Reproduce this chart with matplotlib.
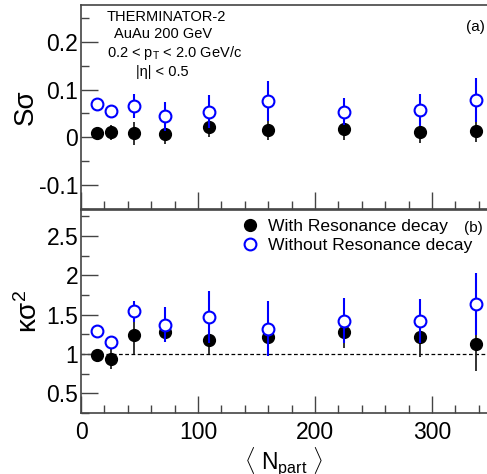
import matplotlib.pyplot as plt
import numpy as np

plt.rcParams['font.family'] = ['Liberation Sans', 'DejaVu Sans']
plt.rcParams['mathtext.fontset'] = 'custom'
plt.rcParams['mathtext.rm'] = 'Liberation Sans'
plt.rcParams['mathtext.it'] = 'Liberation Sans:italic'

# centrality (<Npart>)
npart = [14, 26, 45, 72, 109, 160, 225, 290, 338]

# S*sigma
ss_with = [0.008, 0.010, 0.008, 0.007, 0.021, 0.016, 0.017, 0.011, 0.014]
ss_with_err = [0.010, 0.016, 0.024, 0.022, 0.021, 0.022, 0.022, 0.024, 0.025]
ss_wo = [0.070, 0.056, 0.066, 0.044, 0.054, 0.077, 0.054, 0.057, 0.078]
ss_wo_err = [0.008, 0.008, 0.025, 0.030, 0.035, 0.042, 0.028, 0.034, 0.047]

# kappa*sigma^2
ks_with = [0.99, 0.936, 1.246, 1.285, 1.174, 1.21, 1.28, 1.21, 1.128]
ks_with_err = [0.05, 0.13, 0.24, 0.12, 0.175, 0.15, 0.20, 0.25, 0.35]
ks_wo = [1.29, 1.152, 1.543, 1.374, 1.467, 1.323, 1.425, 1.416, 1.635]
ks_wo_err = [0.05, 0.05, 0.136, 0.225, 0.33, 0.35, 0.29, 0.28, 0.39]

W, H = 487, 474
fig = plt.figure(figsize=(W / 100, H / 100), dpi=100)
ax1 = fig.add_axes([81 / W, 1 - 209 / H, (W - 81) / W, 204 / H])
ax2 = fig.add_axes([81 / W, 1 - 413 / H, (W - 81) / W, 203 / H])

spine_col = '#444444'
for ax in (ax1, ax2):
    ax.set_xlim(0, 347)
    ax.spines['right'].set_visible(False)
    for s in ax.spines.values():
        s.set_color(spine_col)
        s.set_linewidth(1.2)
    ax.set_xticks([0, 100, 200, 300])
    ax.set_xticks(np.arange(0, 347, 20), minor=True)
    ax.tick_params(which='both', direction='in', color=spine_col, width=1.0,
                   top=False, right=False, labelsize=16.5)
    ax.tick_params(which='major', length=12)
    ax.tick_params(which='minor', length=6)
    ax.tick_params(axis='y', pad=2)
    ax.tick_params(axis='x', pad=6)

# top panel
ax1.errorbar(npart, ss_with, yerr=ss_with_err, fmt='o', color='black',
             ecolor='#222222', elinewidth=1.3, capsize=0, markersize=8.5, zorder=2)
ax1.errorbar(npart, ss_wo, yerr=ss_wo_err, fmt='o', color='#0000ff',
             mfc='white', mec='#0000ff', mew=1.5, elinewidth=1.5, capsize=0,
             markersize=8.5, zorder=3)
ax1.set_ylim(-0.151, 0.278)
ax1.set_yticks([-0.1, 0, 0.1, 0.2])
ax1.set_yticklabels(['-0.1', '0', '0.1', '0.2'])
ax1.set_yticks(np.arange(-0.15, 0.28, 0.05), minor=True)
ax1.set_xticklabels([])
ax1.set_ylabel('Sσ', fontsize=20)
ax1.yaxis.set_label_coords(-0.103, 0.5)

txt_kw = dict(transform=ax1.transAxes, ha='left', va='baseline', fontsize=10.5)
ax1.text((107 - 81) / 406, (209 - 21) / 204, 'THERMINATOR-2', **txt_kw)
ax1.text((114 - 81) / 406, (209 - 38) / 204, 'AuAu 200 GeV', **txt_kw)
ax1.text((107 - 81) / 406, (209 - 57) / 204,
         r'0.2 < p$_\mathregular{T}$ < 2.0 GeV/c', **txt_kw)
ax1.text((136 - 81) / 406, (209 - 76) / 204, '|η| < 0.5', **txt_kw)
ax1.text(0.995, (209 - 31) / 204, '(a)', transform=ax1.transAxes, ha='right',
         va='baseline', fontsize=11)

# bottom panel
ax2.axhline(1, color='black', linestyle=(0, (3, 2)), linewidth=0.9, zorder=1)
ax2.errorbar(npart, ks_with, yerr=ks_with_err, fmt='o', color='black',
             ecolor='#222222', elinewidth=1.3, capsize=0, markersize=8.5,
             zorder=2, label='With Resonance decay')
ax2.errorbar(npart, ks_wo, yerr=ks_wo_err, fmt='o', color='#0000ff',
             mfc='white', mec='#0000ff', mew=1.5, elinewidth=1.5, capsize=0,
             markersize=8.5, zorder=3, label='Without Resonance decay')
ax2.set_ylim(0.25, 2.83)
ax2.set_yticks([0.5, 1, 1.5, 2, 2.5])
ax2.set_yticklabels(['0.5', '1', '1.5', '2', '2.5'])
ax2.set_yticks(np.arange(0.25, 2.83, 0.25), minor=True)
ax2.set_ylabel(r'κσ$^\mathregular{2}$', fontsize=20)
ax2.yaxis.set_label_coords(-0.094, 0.5)
ax2.set_xlabel(r'$\langle$ N$_\mathregular{part}$ $\rangle$', fontsize=16.5,
               labelpad=1)
ax2.text(0.99, (413 - 232) / 203, '(b)', transform=ax2.transAxes, ha='right',
         va='baseline', fontsize=11)

handles, labels = ax2.get_legend_handles_labels()
handles = [h[0] for h in handles]
ax2.legend(handles, labels, loc='upper left', bbox_to_anchor=(0.395, 0.955),
           frameon=False, fontsize=12.6, handlelength=1.0, handletextpad=0.5,
           borderpad=0, borderaxespad=0, labelspacing=0.2)

fig.savefig('out.png', dpi=100)
